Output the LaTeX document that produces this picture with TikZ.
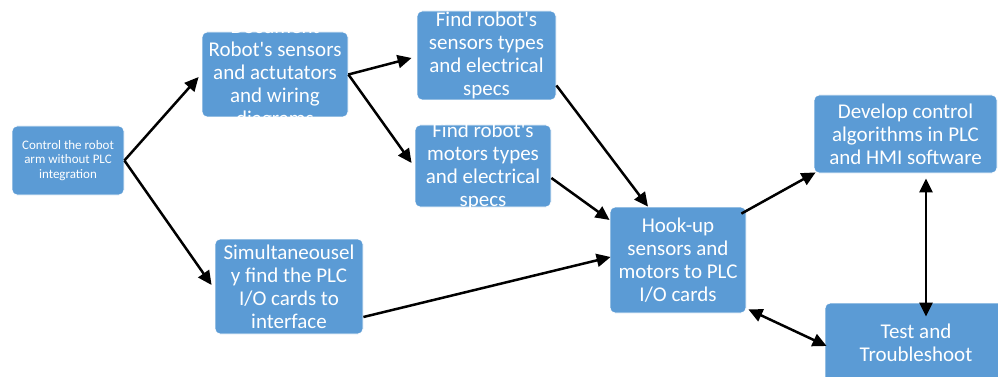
\documentclass[tikz,border=0pt]{standalone}
\usepackage{fontspec}
\setmainfont{Carlito}
\usetikzlibrary{arrows.meta,calc}
\definecolor{boxblue}{HTML}{5B9BD5}
\newcommand{\sq}{\textquotesingle}
\begin{document}
\begin{tikzpicture}[x=1pt,y=-1pt,
  box/.style={draw=white,line width=0.8pt,fill=boxblue,rounded corners=5pt,inner sep=0pt},
  txt/.style={text=white,align=center,inner sep=0pt,font=\fontsize{21}{23}\selectfont},
  smalltxt/.style={text=white,align=center,inner sep=0pt,font=\fontsize{13}{14.7}\selectfont},
  arr/.style={line width=2.5pt,-{Triangle[length=14pt,width=13pt]}},
  darr/.style={line width=2.5pt,{Triangle[length=14pt,width=13pt]}-{Triangle[length=14pt,width=13pt]}}]
\useasboundingbox (0,0) rectangle (998,377);
\clip (0,0) rectangle (998,377);
\fill[white] (0,0) rectangle (998,377);
% boxes
\node[box,minimum width=112pt,minimum height=69pt] (A) at (68,160.5) {};
\node[box,minimum width=146pt,minimum height=85pt] (B) at (275,74.5) {};
\node[box,minimum width=139pt,minimum height=89pt] (C) at (486.5,55.5) {};
\node[box,minimum width=136pt,minimum height=82pt] (D) at (483,166) {};
\node[box,minimum width=148pt,minimum height=95pt] (E) at (289,286.5) {};
\node[box,minimum width=136pt,minimum height=106pt] (F) at (678,260) {};
\node[box,minimum width=183pt,minimum height=78pt] (G) at (905.5,134) {};
\node[box,minimum width=182pt,minimum height=79pt] (H) at (916,342.5) {};
% texts
\node[smalltxt] (At) at (A) {Control the robot\\arm without PLC\\integration};
\node[txt] (Bt) at (B) {Document\\Robot\sq{}s sensors\\and actutators\\and wiring\\diagrams};
\node[txt] (Ct) at (C) {Find robot\sq{}s\\sensors types\\and electrical\\specs};
\node[txt] (Dt) at (D) {Find robot\sq{}s\\motors types\\and electrical\\specs};
\node[txt] (Et) at (E) {Simultaneousel\\y find the PLC\\I/O cards to\\interface};
\node[txt] (Ft) at (F) {Hook-up\\sensors and\\motors to PLC\\I/O cards};
\node[txt] (Gt) at (G) {Develop control\\algorithms in PLC\\and HMI software};
\node[txt] (Ht) at (H) {Test and\\Troubleshoot};
% connectors
\coordinate (a1) at ($(B.west)+(-3,2.5)$);
\coordinate (a2) at ($(E.west)+(-3,-1.5)$);
\coordinate (b1) at ($(C.west)+(-5,2.5)$);
\coordinate (b2) at ($(D.west)+(-3,-3)$);
\coordinate (c0) at ($(C.south east)+(0,-15)$);
\coordinate (c1) at ($(F.north)+(-30,0)$);
\coordinate (d0) at ($(D.east)+(0,12)$);
\coordinate (d1) at ($(F.west)+(0,-40)$);
\coordinate (e0) at ($(E.east)+(0,30.5)$);
\coordinate (e1) at ($(F.west)+(1,-3)$);
\coordinate (f0) at ($(F.north east)+(-5,7)$);
\coordinate (f1) at ($(G.south west)+(2,-1)$);
\coordinate (g0) at ($(G.south)+(20.5,5)$);
\coordinate (g1) at ($(H.north)+(10,14)$);
\coordinate (h0) at ($(F.south east)+(2,-4)$);
\coordinate (h1) at ($(H.west)+(2,3.5)$);
\draw[arr] (A.east) -- (a1);
\draw[arr] (A.east) -- (a2);
\draw[arr] (B.east) -- (b1);
\draw[arr] (B.east) -- (b2);
\draw[arr] (c0) -- (c1);
\draw[arr] (d0) -- (d1);
\draw[arr] (e0) -- (e1);
\draw[arr] (f0) -- (f1);
\draw[darr] (g0) -- (g1);
\draw[darr] (h0) -- (h1);
\end{tikzpicture}
\end{document}
